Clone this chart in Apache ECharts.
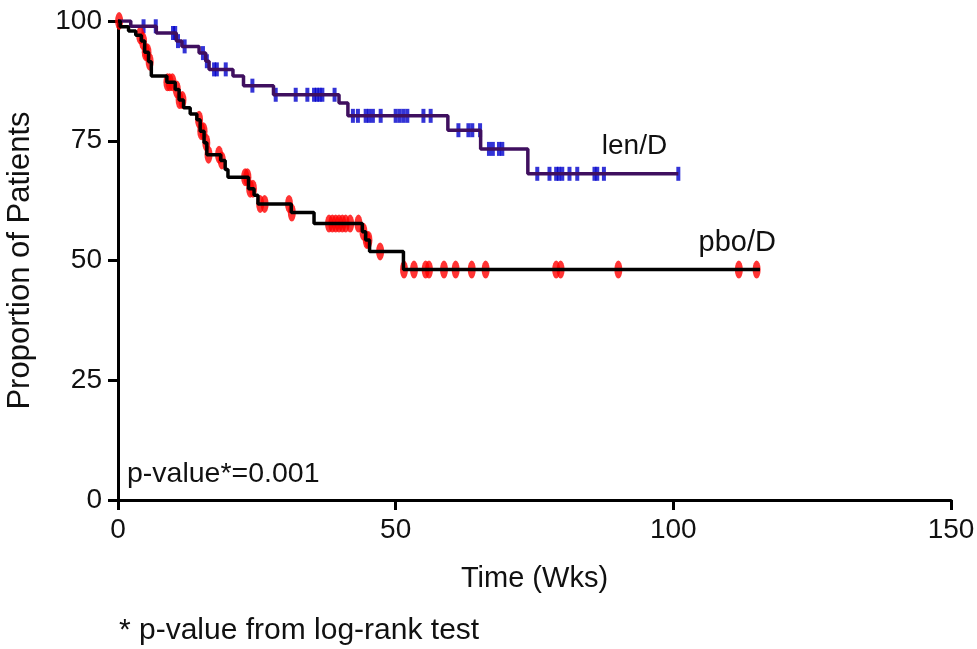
<!DOCTYPE html>
<html lang="en">
<head>
    <meta charset="UTF-8">
    <title>Kaplan-Meier len/D vs pbo/D</title>
    <script src="https://cdn.jsdelivr.net/npm/echarts@6/dist/echarts.min.js"></script>
    <style>
        html, body { margin: 0; padding: 0; background: #fff; }
    </style>
</head>
<body>
    <div id="main" style="width: 977px;height: 649px;"></div>

    <script type="text/javascript">
        // step points of each curve: time (weeks) and survival after the drop
        var lenTimes = [0, 2.3, 6.9, 10.5, 11.5, 14.6, 15.8, 16.4, 20.7, 22.6, 28.0, 39.8, 41.4, 59.4, 65.3, 73.8, 100.9];
        var lenSurv  = [100, 98.9, 97.5, 95.8, 94.7, 93.3, 91.6, 89.9, 88.5, 86.5, 84.6, 82.9, 80.2, 77.2, 73.3, 68.1, 68.1];

        var pboTimes = [0, 0.4, 1.9, 3.2, 4.2, 4.8, 5.5, 6.0, 8.8, 10.3, 11.0, 11.8, 13.0, 14.2, 14.8, 15.5, 16.0, 18.5, 19.3, 19.8,
                        23.5, 24.5, 25.2, 31.2, 35.3, 44.0, 44.6, 45.3, 51.4, 115.6];
        var pboSurv  = [100, 98.8, 97.9, 97.0, 95.8, 93.5, 91.5, 88.5, 87.2, 85.7, 83.5, 81.9, 80.6, 79.4, 77.0, 74.6, 72.1, 70.9, 69.0, 67.4,
                        65.0, 63.6, 61.8, 60.0, 57.7, 56.0, 54.3, 51.9, 48.1, 48.1];

        // censored patients (tick marks)
        var lenCensor = [4.6, 6.8, 9.9, 10.3, 10.8, 12.0, 15.3, 16.0, 17.3, 17.8, 19.4, 24.2,
                         28.4, 32.0, 34.1, 35.3, 35.8, 36.3, 36.8, 39.0,
                         42.3, 43.2, 44.6, 45.2, 45.9, 47.3, 50.0, 50.7, 51.4, 52.1, 55.0, 56.3,
                         61.3, 63.1, 63.8, 65.2, 66.8, 67.5, 68.6, 69.2,
                         75.5, 77.7, 78.9, 79.4, 80.0, 81.3, 82.7, 85.8, 86.3, 87.5, 100.9];
        var pboCensor = [0.2, 4.0, 4.5, 5.0, 5.3, 5.7, 8.9, 9.3, 9.8, 10.6, 11.1, 11.6,
                         14.6, 15.0, 15.4, 15.9, 16.3, 18.2, 18.7, 22.9, 23.3, 23.8, 24.3, 25.6, 26.4,
                         30.8, 31.3, 38.0, 38.6, 39.2, 39.8, 40.4, 41.0, 41.8, 43.3, 44.2, 44.8, 45.1, 47.2,
                         51.5, 53.3, 55.4, 56.0, 58.7, 60.8, 63.7, 66.2, 78.9, 79.7, 90.1, 111.8, 115.0];

        var xTicks = [0, 50, 100, 150];
        var yTicks = [0, 25, 50, 75, 100];

        var font = 'Liberation Sans, Arial, sans-serif';
        var txt = '#111';

        function pairs(ts, vs) {
            var out = [];
            for (var i = 0; i < ts.length; i++) out.push([ts[i], vs[i]]);
            return out;
        }
        // value of the step curve at time t
        function survAt(ts, vs, t) {
            var v = vs[0];
            for (var i = 0; i < ts.length; i++) {
                if (ts[i] <= t) v = vs[i];
            }
            return v;
        }
        function censorPts(cs, ts, vs) {
            var out = [];
            for (var i = 0; i < cs.length; i++) out.push([cs[i], survAt(ts, vs, cs[i])]);
            return out;
        }

        var myChart = echarts.init(document.getElementById('main'));
        var option = {
            animation: false,
            backgroundColor: '#fff',
            grid: { left: 118, right: 26, top: 21, bottom: 149, containLabel: false, outerBoundsMode: 'none' },
            xAxis: {
                type: 'value', min: xTicks[0], max: xTicks[xTicks.length - 1], interval: 50,
                name: 'Time (Wks)', nameLocation: 'middle', nameGap: 64,
                nameTextStyle: { fontFamily: font, fontSize: 29, color: txt },
                axisLine: { lineStyle: { color: '#000', width: 3 } },
                axisTick: { length: 10, lineStyle: { color: '#000', width: 3 } },
                axisLabel: { margin: 16, fontFamily: font, fontSize: 28, color: txt },
                splitLine: { show: false }
            },
            yAxis: {
                type: 'value', min: yTicks[0], max: yTicks[yTicks.length - 1], interval: 25,
                name: 'Proportion of Patients', nameLocation: 'middle', nameGap: 82,
                nameTextStyle: { fontFamily: font, fontSize: 31, color: txt },
                axisLine: { show: true, lineStyle: { color: '#000', width: 3 } },
                axisTick: { show: true, length: 10, lineStyle: { color: '#000', width: 3 } },
                axisLabel: { margin: 16, fontFamily: font, fontSize: 28, color: txt },
                splitLine: { show: false }
            },
            graphic: [
                { type: 'text', left: 127, top: 460, style: { text: 'p-value*=0.001', font: '28.5px ' + font, fill: txt } },
                { type: 'text', left: 119, top: 616, style: { text: '* p-value from log-rank test', font: '30px ' + font, fill: txt } }
            ],
            series: [
                {
                    name: 'len/D', type: 'line', step: 'end', symbol: 'none',
                    data: pairs(lenTimes, lenSurv),
                    lineStyle: { color: '#3f0f5f', width: 3.5 },
                    markPoint: {
                        symbol: 'circle', symbolSize: 0,
                        label: { show: true, formatter: 'len/D', fontFamily: font, fontSize: 28, color: txt },
                        data: [{ coord: [93, 73.8] }]
                    }
                },
                {
                    name: 'pbo/D', type: 'line', step: 'end', symbol: 'none',
                    data: pairs(pboTimes, pboSurv),
                    lineStyle: { color: '#000', width: 3.5 },
                    markPoint: {
                        symbol: 'circle', symbolSize: 0,
                        label: { show: true, formatter: 'pbo/D', fontFamily: font, fontSize: 29, color: txt },
                        data: [{ coord: [111.5, 53.7] }]
                    }
                },
                {
                    type: 'scatter', symbol: 'rect', symbolSize: [4, 14],
                    itemStyle: { color: '#0000cc' },
                    data: censorPts(lenCensor, lenTimes, lenSurv)
                },
                {
                    type: 'scatter', symbol: 'circle', symbolSize: [8, 18],
                    itemStyle: { color: '#ff0000' },
                    data: censorPts(pboCensor, pboTimes, pboSurv)
                }
            ]
        };
        myChart.setOption(option);
    </script>
</body>
</html>
